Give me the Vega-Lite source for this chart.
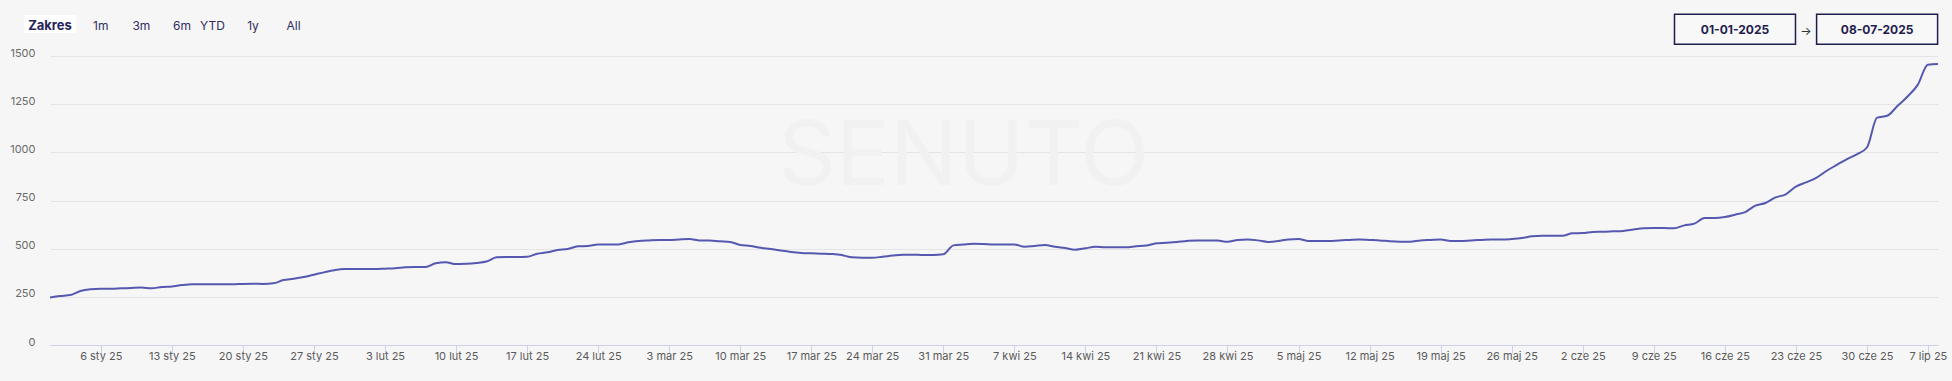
{
  "$schema": "https://vega.github.io/schema/vega-lite/v6.json",
  "width": 1888,
  "height": 289,
  "autosize": {"type": "none"},
  "padding": {"left": 50, "top": 56, "right": 14, "bottom": 36},
  "background": "#f6f6f6",
  "config": {"view": {"stroke": null}, "font": "Inter", "axis": {"labelFont": "Inter"}},
  "data": {"values": [{}]},
  "datasets": {
    "series": [
      {"date":"2025-01-01","value":247},{"date":"2025-01-02","value":254},{"date":"2025-01-03","value":259},{"date":"2025-01-04","value":280},{"date":"2025-01-05","value":289},{"date":"2025-01-06","value":292},{"date":"2025-01-07","value":292},
      {"date":"2025-01-08","value":294},{"date":"2025-01-09","value":296},{"date":"2025-01-10","value":298},{"date":"2025-01-11","value":294},{"date":"2025-01-12","value":301},{"date":"2025-01-13","value":304},{"date":"2025-01-14","value":311},
      {"date":"2025-01-15","value":315},{"date":"2025-01-16","value":315},{"date":"2025-01-17","value":315},{"date":"2025-01-18","value":315},{"date":"2025-01-19","value":315},{"date":"2025-01-20","value":317},{"date":"2025-01-21","value":318},
      {"date":"2025-01-22","value":317},{"date":"2025-01-23","value":320},{"date":"2025-01-24","value":337},{"date":"2025-01-25","value":344},{"date":"2025-01-26","value":353},{"date":"2025-01-27","value":365},{"date":"2025-01-28","value":377},
      {"date":"2025-01-29","value":388},{"date":"2025-01-30","value":394},{"date":"2025-01-31","value":394},
      {"date":"2025-02-01","value":394},{"date":"2025-02-02","value":394},{"date":"2025-02-03","value":396},{"date":"2025-02-04","value":398},{"date":"2025-02-05","value":403},{"date":"2025-02-06","value":405},{"date":"2025-02-07","value":405},
      {"date":"2025-02-08","value":424},{"date":"2025-02-09","value":429},{"date":"2025-02-10","value":420},{"date":"2025-02-11","value":422},{"date":"2025-02-12","value":426},{"date":"2025-02-13","value":433},{"date":"2025-02-14","value":455},
      {"date":"2025-02-15","value":457},{"date":"2025-02-16","value":457},{"date":"2025-02-17","value":458},{"date":"2025-02-18","value":474},{"date":"2025-02-19","value":481},{"date":"2025-02-20","value":493},{"date":"2025-02-21","value":498},
      {"date":"2025-02-22","value":512},{"date":"2025-02-23","value":514},{"date":"2025-02-24","value":521},{"date":"2025-02-25","value":521},{"date":"2025-02-26","value":522},{"date":"2025-02-27","value":533},{"date":"2025-02-28","value":540},
      {"date":"2025-03-01","value":543},{"date":"2025-03-02","value":545},{"date":"2025-03-03","value":545},{"date":"2025-03-04","value":548},{"date":"2025-03-05","value":550},{"date":"2025-03-06","value":543},{"date":"2025-03-07","value":542},
      {"date":"2025-03-08","value":538},{"date":"2025-03-09","value":535},{"date":"2025-03-10","value":519},{"date":"2025-03-11","value":514},{"date":"2025-03-12","value":505},{"date":"2025-03-13","value":498},{"date":"2025-03-14","value":490},
      {"date":"2025-03-15","value":483},{"date":"2025-03-16","value":478},{"date":"2025-03-17","value":476},{"date":"2025-03-18","value":474},{"date":"2025-03-19","value":472},
      {"date":"2025-03-21","value":467},{"date":"2025-03-22","value":455},{"date":"2025-03-23","value":453},{"date":"2025-03-24","value":453},{"date":"2025-03-25","value":458},{"date":"2025-03-26","value":464},{"date":"2025-03-27","value":469},
      {"date":"2025-03-28","value":469},{"date":"2025-03-29","value":467},{"date":"2025-03-30","value":467},{"date":"2025-03-31","value":471},
      {"date":"2025-04-01","value":517},{"date":"2025-04-02","value":522},{"date":"2025-04-03","value":526},{"date":"2025-04-04","value":524},{"date":"2025-04-05","value":521},{"date":"2025-04-06","value":522},{"date":"2025-04-07","value":522},
      {"date":"2025-04-08","value":510},{"date":"2025-04-09","value":514},{"date":"2025-04-10","value":519},{"date":"2025-04-11","value":510},{"date":"2025-04-12","value":503},{"date":"2025-04-13","value":495},{"date":"2025-04-14","value":502},
      {"date":"2025-04-15","value":510},{"date":"2025-04-16","value":507},{"date":"2025-04-17","value":507},{"date":"2025-04-18","value":507},{"date":"2025-04-19","value":512},{"date":"2025-04-20","value":516},{"date":"2025-04-21","value":528},
      {"date":"2025-04-22","value":531},{"date":"2025-04-23","value":535},{"date":"2025-04-24","value":540},{"date":"2025-04-25","value":543},{"date":"2025-04-26","value":542},{"date":"2025-04-27","value":542},{"date":"2025-04-28","value":536},
      {"date":"2025-04-29","value":545},{"date":"2025-04-30","value":548},
      {"date":"2025-05-01","value":543},{"date":"2025-05-02","value":535},{"date":"2025-05-03","value":540},{"date":"2025-05-04","value":548},{"date":"2025-05-05","value":550},{"date":"2025-05-06","value":540},{"date":"2025-05-07","value":540},
      {"date":"2025-05-08","value":540},{"date":"2025-05-09","value":543},{"date":"2025-05-10","value":545},{"date":"2025-05-11","value":547},{"date":"2025-05-12","value":545},{"date":"2025-05-13","value":543},{"date":"2025-05-14","value":538},
      {"date":"2025-05-15","value":536},{"date":"2025-05-16","value":536},{"date":"2025-05-17","value":543},{"date":"2025-05-18","value":545},{"date":"2025-05-19","value":547},{"date":"2025-05-20","value":540},{"date":"2025-05-21","value":540},
      {"date":"2025-05-22","value":543},{"date":"2025-05-23","value":545},{"date":"2025-05-24","value":547},{"date":"2025-05-25","value":547},{"date":"2025-05-26","value":550},{"date":"2025-05-27","value":555},{"date":"2025-05-28","value":564},
      {"date":"2025-05-29","value":567},{"date":"2025-05-30","value":567},{"date":"2025-05-31","value":567},
      {"date":"2025-06-01","value":580},{"date":"2025-06-02","value":581},{"date":"2025-06-03","value":587},{"date":"2025-06-04","value":588},{"date":"2025-06-05","value":590},{"date":"2025-06-06","value":592},{"date":"2025-06-07","value":599},
      {"date":"2025-06-08","value":606},{"date":"2025-06-09","value":607},{"date":"2025-06-10","value":607},{"date":"2025-06-11","value":606},{"date":"2025-06-12","value":621},{"date":"2025-06-13","value":630},{"date":"2025-06-14","value":659},
      {"date":"2025-06-15","value":659},{"date":"2025-06-16","value":664},{"date":"2025-06-17","value":676},{"date":"2025-06-18","value":690},{"date":"2025-06-19","value":723},{"date":"2025-06-20","value":737},{"date":"2025-06-21","value":766},
      {"date":"2025-06-22","value":782},{"date":"2025-06-23","value":822},{"date":"2025-06-24","value":844},{"date":"2025-06-25","value":867},{"date":"2025-06-26","value":903},{"date":"2025-06-27","value":934},{"date":"2025-06-28","value":964},
      {"date":"2025-06-29","value":990},{"date":"2025-06-30","value":1025},
      {"date":"2025-07-01","value":1180},{"date":"2025-07-02","value":1190},{"date":"2025-07-04","value":1240},{"date":"2025-07-05","value":1290},{"date":"2025-07-06","value":1350},{"date":"2025-07-07","value":1455},{"date":"2025-07-08","value":1458}
    ]
  },
  "layer": [
    {
      "mark": {"type": "text", "text": "SENUTO", "fontSize": 90, "fontWeight": 400, "color": "#f1f1f1", "align": "center", "baseline": "middle"},
      "encoding": {
        "x": {"datum": "2025-04-02", "type": "ordinal", "title": null},
        "y": {"datum": 973, "type": "quantitative", "title": null}
      }
    },
    {
      "data": {"name": "series"},
      "mark": {"type": "line", "interpolate": "monotone", "color": "#5558b0", "strokeWidth": 2},
      "encoding": {
        "x": {
          "field": "date", "type": "ordinal", "title": null,
          "scale": {"type": "point", "padding": 0},
          "axis": {
            "values": ["2025-01-06","2025-01-13","2025-01-20","2025-01-27","2025-02-03","2025-02-10","2025-02-17","2025-02-24","2025-03-03","2025-03-10","2025-03-17","2025-03-24","2025-03-31","2025-04-07","2025-04-14","2025-04-21","2025-04-28","2025-05-05","2025-05-12","2025-05-19","2025-05-26","2025-06-02","2025-06-09","2025-06-16","2025-06-23","2025-06-30","2025-07-07"],
            "labelExpr": "parseInt(substring(datum.value, 8, 10)) + ' ' + ['sty','lut','mar','kwi','maj','cze','lip'][parseInt(substring(datum.value, 5, 7)) - 1] + ' 25'",
            "labelAngle": 0,
            "labelAlign": "center",
            "labelOverlap": false,
            "labelFontSize": 11,
            "labelColor": "#5a5a5a",
            "labelPadding": 3,
            "tickSize": 8,
            "tickColor": "#cfd0ec",
            "domainColor": "#cfd0ec",
            "grid": false
          }
        },
        "y": {
          "field": "value", "type": "quantitative", "title": null,
          "scale": {"domain": [0, 1500], "nice": false, "zero": false},
          "axis": {
            "values": [0, 250, 500, 750, 1000, 1250, 1500],
            "format": "d",
            "grid": true,
            "gridColor": "#e4e4e4",
            "domain": false,
            "ticks": false,
            "labelPadding": 15,
            "labelFontSize": 11,
            "labelColor": "#6a6a6a",
            "labelBaseline": "alphabetic"
          }
        }
      }
    },
    {
      "mark": {"type": "point", "shape": "M-1,-0.346H1V0.346H-1Z", "size": 2704, "filled": true, "fill": "#ffffff", "opacity": 1},
      "encoding": {
        "x": {"datum": "2025-01-01", "type": "ordinal", "title": null},
        "y": {"datum": 1666, "type": "quantitative", "title": null}
      }
    },
    {
      "mark": {"type": "text", "text": "Zakres", "fontSize": 13, "fontWeight": "bold", "color": "#26245a", "align": "center", "baseline": "middle"},
      "encoding": {
        "x": {"datum": "2025-01-01", "type": "ordinal", "title": null},
        "y": {"datum": 1657, "type": "quantitative", "title": null}
      }
    },
    {
      "mark": {"type": "text", "text": "1m", "fontSize": 12, "color": "#2e2d5e", "align": "center", "baseline": "middle"},
      "encoding": {
        "x": {"datum": "2025-01-06", "type": "ordinal", "title": null},
        "y": {"datum": 1657, "type": "quantitative", "title": null}
      }
    },
    {
      "mark": {"type": "text", "text": "3m", "fontSize": 12, "color": "#2e2d5e", "align": "center", "baseline": "middle"},
      "encoding": {
        "x": {"datum": "2025-01-10", "type": "ordinal", "title": null},
        "y": {"datum": 1657, "type": "quantitative", "title": null}
      }
    },
    {
      "mark": {"type": "text", "text": "6m", "fontSize": 12, "color": "#2e2d5e", "align": "center", "baseline": "middle"},
      "encoding": {
        "x": {"datum": "2025-01-14", "type": "ordinal", "title": null},
        "y": {"datum": 1657, "type": "quantitative", "title": null}
      }
    },
    {
      "mark": {"type": "text", "text": "YTD", "fontSize": 12, "color": "#2e2d5e", "align": "center", "baseline": "middle"},
      "encoding": {
        "x": {"datum": "2025-01-17", "type": "ordinal", "title": null},
        "y": {"datum": 1657, "type": "quantitative", "title": null}
      }
    },
    {
      "mark": {"type": "text", "text": "1y", "fontSize": 12, "color": "#2e2d5e", "align": "center", "baseline": "middle"},
      "encoding": {
        "x": {"datum": "2025-01-21", "type": "ordinal", "title": null},
        "y": {"datum": 1657, "type": "quantitative", "title": null}
      }
    },
    {
      "mark": {"type": "text", "text": "All", "fontSize": 12, "color": "#2e2d5e", "align": "center", "baseline": "middle"},
      "encoding": {
        "x": {"datum": "2025-01-25", "type": "ordinal", "title": null},
        "y": {"datum": 1657, "type": "quantitative", "title": null}
      }
    },
    {
      "mark": {"type": "point", "shape": "M-1,-0.248H1V0.248H-1Z", "size": 14641, "filled": false, "fill": "#f8f8f8", "stroke": "#1f1d4f", "strokeWidth": 1.5, "opacity": 1},
      "encoding": {
        "x": {"datum": "2025-06-17", "type": "ordinal", "title": null},
        "y": {"datum": 1639, "type": "quantitative", "title": null}
      }
    },
    {
      "mark": {"type": "point", "shape": "M-1,-0.248H1V0.248H-1Z", "size": 14641, "filled": false, "fill": "#f8f8f8", "stroke": "#1f1d4f", "strokeWidth": 1.5, "opacity": 1},
      "encoding": {
        "x": {"datum": "2025-07-01", "type": "ordinal", "title": null},
        "y": {"datum": 1639, "type": "quantitative", "title": null}
      }
    },
    {
      "mark": {"type": "text", "text": "01-01-2025", "fontSize": 12, "fontWeight": "bold", "color": "#1f1d4f", "align": "center", "baseline": "middle"},
      "encoding": {
        "x": {"datum": "2025-06-17", "type": "ordinal", "title": null},
        "y": {"datum": 1636, "type": "quantitative", "title": null}
      }
    },
    {
      "mark": {"type": "text", "text": "08-07-2025", "fontSize": 12, "fontWeight": "bold", "color": "#1f1d4f", "align": "center", "baseline": "middle"},
      "encoding": {
        "x": {"datum": "2025-07-01", "type": "ordinal", "title": null},
        "y": {"datum": 1636, "type": "quantitative", "title": null}
      }
    },
    {
      "mark": {"type": "text", "text": "→", "fontSize": 12, "color": "#333333", "align": "center", "baseline": "middle"},
      "encoding": {
        "x": {"datum": "2025-06-24", "type": "ordinal", "title": null},
        "y": {"datum": 1631, "type": "quantitative", "title": null}
      }
    }
  ]
}
